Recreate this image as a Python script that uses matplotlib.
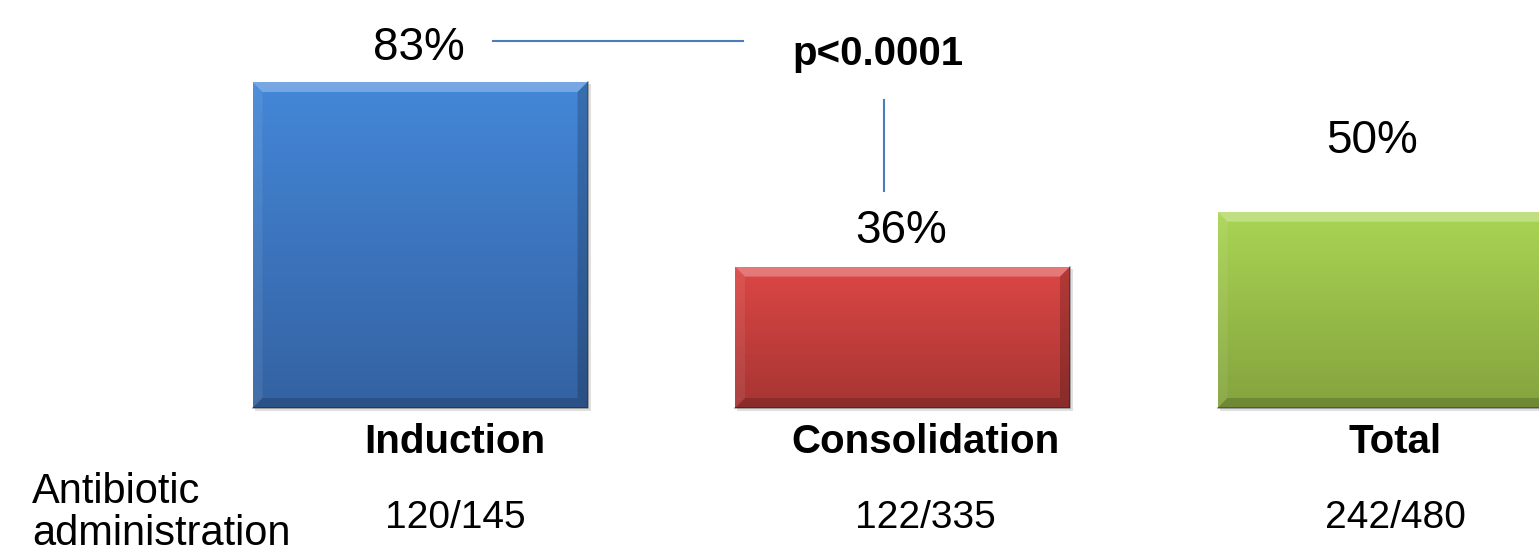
import numpy as np
import matplotlib.pyplot as plt
from matplotlib.patches import Polygon
from matplotlib.colors import to_rgb

plt.rcParams['font.family'] = ['Liberation Sans', 'DejaVu Sans']

# data
categories = ['Induction', 'Consolidation', 'Total']
percent = [83, 36, 50]
fractions = ['120/145', '122/335', '242/480']
row_label = ['Antibiotic', 'administration']
p_text = 'p<0.0001'

# colours: (top, bottom) of each bar gradient
bar_colours = [('#4487d8', '#3462a2'),
               ('#dc4745', '#a63533'),
               ('#aad553', '#84a33e')]

# layout (data units: x = bar index, y = percent)
px_x = 482.5          # pixels per category step
px_y = 326 / 83.0     # pixels per percent
bar_w = 335 / px_x
label_dx = [-0.002, -0.003, -0.026]
label_dy = [5.6, 6.0, 14.9]
cat_dx = [35 / px_x, 23 / px_x, 10 / px_x]

fig = plt.figure(figsize=(15.39, 5.56), dpi=100)
ax = fig.add_axes([0, 0, 1, 1])
ax.set_xlim(-420 / px_x, 1119 / px_x)
ax.set_ylim(-148 / px_y, 408 / px_y)
ax.axis('off')

X = np.arange(len(categories))
bars = ax.bar(X, percent, width=bar_w, color='none', edgecolor='none', zorder=2)

bx = 10 / px_x
by = 10 / px_y
for i, b in enumerate(bars):
    x0 = b.get_x()
    x1 = x0 + b.get_width()
    top = b.get_height()
    c_top = np.array(to_rgb(bar_colours[i][0]))
    c_bot = np.array(to_rgb(bar_colours[i][1]))
    t = np.linspace(0, 1, 200)[:, None]
    grad = (c_top * (1 - t) + c_bot * t)[:, None, :]
    # drop shadow
    ax.add_patch(Polygon([(x0 + 2 / px_x, -3 / px_y), (x1 + 3 / px_x, -3 / px_y),
                          (x1 + 3 / px_x, top - 2 / px_y), (x0 + 2 / px_x, top - 2 / px_y)],
                         closed=True, facecolor='#000000', alpha=0.12,
                         edgecolor='none', zorder=1))
    im = ax.imshow(grad, extent=[x0, x1, 0, top], aspect='auto',
                   interpolation='bilinear', zorder=2)
    im.set_clip_path(b)
    # bevel
    ax.add_patch(Polygon([(x0, top), (x1, top), (x1 - bx, top - by), (x0 + bx, top - by)],
                         closed=True, facecolor='white', alpha=0.28,
                         edgecolor='none', zorder=3))
    ax.add_patch(Polygon([(x0, 0), (x1, 0), (x1 - bx, by), (x0 + bx, by)],
                         closed=True, facecolor='black', alpha=0.16,
                         edgecolor='none', zorder=3))
    ax.add_patch(Polygon([(x0, 0), (x0, top), (x0 + bx, top - by), (x0 + bx, by)],
                         closed=True, facecolor='white', alpha=0.07,
                         edgecolor='none', zorder=3))
    ax.add_patch(Polygon([(x1, 0), (x1, top), (x1 - bx, top - by), (x1 - bx, by)],
                         closed=True, facecolor='black', alpha=0.18,
                         edgecolor='none', zorder=3))
    ax.plot([x1, x1, x0], [top, 0, 0], color='black', alpha=0.35, lw=1.2, zorder=4)

    # value label
    ax.text(i + label_dx[i], percent[i] + label_dy[i], '%d%%' % percent[i],
            ha='center', va='baseline', fontsize=33, color='black')
    # category label
    ax.text(i + cat_dx[i], -11.5, categories[i], ha='center', va='baseline',
            fontsize=29, fontweight='bold', color='black')
    ax.text(i + cat_dx[i], -30.5, fractions[i], ha='center', va='baseline',
            fontsize=28, color='black')

ax.text(-388 / px_x, -24.2, row_label[0], ha='left', va='baseline', fontsize=30)
ax.text(-388 / px_x, -34.9, row_label[1], ha='left', va='baseline', fontsize=30)

# significance bracket
ax.text(0.949, 87.3, p_text, ha='center', va='baseline', fontsize=29, fontweight='bold')
ax.plot([0.151, 0.669], [93.4, 93.4], color='#4a7ebb', lw=1.5, zorder=5)
ax.plot([0.962, 0.962], [78.4, 55.2], color='#4a7ebb', lw=1.5, zorder=5)

plt.savefig('out.png', dpi=100)
